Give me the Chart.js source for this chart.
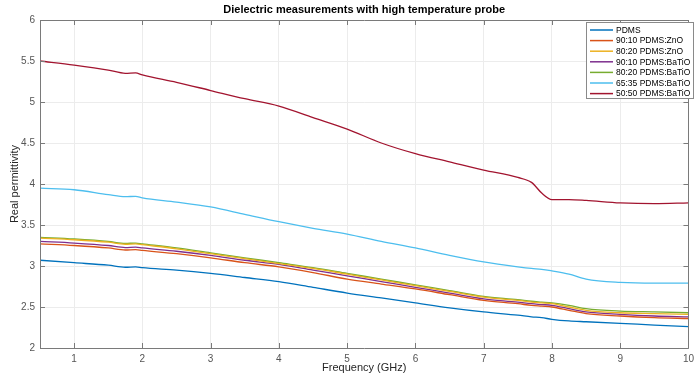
<!DOCTYPE html>
<html>
<head>
<meta charset="utf-8">
<script src="https://cdn.jsdelivr.net/npm/chart.js@4"></script>
<style>
  html, body { margin: 0; padding: 0; background: #fff; }
  #wrap { width: 699px; height: 381px; }
</style>
</head>
<body>
<div id="wrap"><canvas id="dielChart" width="699" height="381"></canvas></div>
<script>
const freq = [0.5, 1, 1.5, 1.75, 1.9, 2, 2.5, 3, 3.5, 4, 4.5, 5, 5.5, 6, 6.5, 7, 7.5, 7.7, 7.85, 8, 8.25, 8.5, 9, 9.5, 10];

const pdms      = [3.07, 3.04, 3.01, 2.985, 2.99, 2.98, 2.95, 2.91, 2.86, 2.81, 2.74, 2.67, 2.61, 2.55, 2.49, 2.44, 2.40, 2.38, 2.37, 2.35, 2.33, 2.32, 2.30, 2.28, 2.26];
const zno9010   = [3.27, 3.25, 3.22, 3.195, 3.20, 3.19, 3.15, 3.10, 3.04, 2.99, 2.92, 2.84, 2.78, 2.72, 2.65, 2.58, 2.54, 2.52, 2.51, 2.50, 2.46, 2.42, 2.39, 2.37, 2.36];
const zno8020   = [3.34, 3.32, 3.29, 3.265, 3.27, 3.26, 3.21, 3.15, 3.09, 3.03, 2.97, 2.90, 2.83, 2.76, 2.69, 2.62, 2.58, 2.56, 2.55, 2.54, 2.50, 2.46, 2.43, 2.42, 2.41];
const bat9010   = [3.30, 3.28, 3.25, 3.225, 3.23, 3.22, 3.18, 3.13, 3.07, 3.02, 2.95, 2.88, 2.81, 2.74, 2.67, 2.60, 2.56, 2.54, 2.53, 2.52, 2.48, 2.44, 2.41, 2.39, 2.38];
const bat8020   = [3.35, 3.33, 3.30, 3.275, 3.28, 3.27, 3.22, 3.16, 3.10, 3.04, 2.98, 2.91, 2.84, 2.77, 2.70, 2.63, 2.59, 2.57, 2.56, 2.55, 2.52, 2.48, 2.45, 2.44, 2.43];
const bat6535   = [3.95, 3.93, 3.87, 3.845, 3.85, 3.83, 3.78, 3.72, 3.63, 3.54, 3.46, 3.39, 3.30, 3.22, 3.13, 3.05, 2.99, 2.97, 2.96, 2.94, 2.90, 2.84, 2.80, 2.79, 2.79];
const bat5050   = [5.50, 5.45, 5.39, 5.35, 5.355, 5.33, 5.24, 5.14, 5.04, 4.95, 4.81, 4.67, 4.50, 4.37, 4.27, 4.17, 4.08, 4.02, 3.89, 3.81, 3.81, 3.80, 3.77, 3.76, 3.77];

const seriesNames  = ['PDMS', '90:10 PDMS:ZnO', '80:20 PDMS:ZnO', '90:10 PDMS:BaTiO', '80:20 PDMS:BaTiO', '65:35 PDMS:BaTiO', '50:50 PDMS:BaTiO'];
const seriesValues = [pdms, zno9010, zno8020, bat9010, bat8020, bat6535, bat5050];
const seriesColors = ['#0072BD', '#D95319', '#EDB120', '#7E2F8E', '#77AC30', '#4DBEEE', '#A2142F'];

const xTicks = [1, 2, 3, 4, 5, 6, 7, 8, 9, 10];
const yTicks = [2, 2.5, 3, 3.5, 4, 4.5, 5, 5.5, 6];

const FONT = "'Liberation Sans', Arial, sans-serif";

// matlab style box, inward ticks, title and legend
const matlabBox = {
    id: 'matlabBox',
    afterDraw(chart) {
        const ctx = chart.ctx;
        const a = chart.chartArea;
        const xs = chart.scales.x, ys = chart.scales.y;
        ctx.save();
        ctx.strokeStyle = '#7a7a7a';
        ctx.lineWidth = 1;
        ctx.beginPath();
        ctx.rect(Math.round(a.left) + 0.5, Math.round(a.top) + 0.5, Math.round(a.right - a.left), Math.round(a.bottom - a.top));
        ctx.stroke();
        // inward ticks
        ctx.beginPath();
        xTicks.forEach(v => {
            const px = Math.round(xs.getPixelForValue(v)) + 0.5;
            ctx.moveTo(px, a.bottom); ctx.lineTo(px, a.bottom - 5);
            ctx.moveTo(px, a.top); ctx.lineTo(px, a.top + 5);
        });
        yTicks.forEach(v => {
            const py = Math.round(ys.getPixelForValue(v)) + 0.5;
            ctx.moveTo(a.left, py); ctx.lineTo(a.left + 5, py);
            ctx.moveTo(a.right, py); ctx.lineTo(a.right - 5, py);
        });
        ctx.stroke();

        // title
        ctx.fillStyle = '#000';
        ctx.font = 'bold 11px ' + FONT;
        ctx.textAlign = 'center';
        ctx.textBaseline = 'middle';
        ctx.fillText('Dielectric measurements with high temperature probe', (a.left + a.right) / 2, 10);

        // legend
        const lx = 586, ly = 22, lw = 107, lh = 76;
        ctx.fillStyle = '#fff';
        ctx.fillRect(lx, ly, lw, lh);
        ctx.strokeStyle = '#8a8a8a';
        ctx.strokeRect(lx + 0.5, ly + 0.5, lw, lh);
        ctx.font = '8.5px ' + FONT;
        ctx.textAlign = 'left';
        chart.data.datasets.forEach((ds, i) => {
            const y = ly + 8 + i * 10.6;
            ctx.strokeStyle = ds.borderColor;
            ctx.lineWidth = 1.5;
            ctx.beginPath();
            ctx.moveTo(lx + 4, y); ctx.lineTo(lx + 27, y);
            ctx.stroke();
            ctx.fillStyle = '#000';
            ctx.fillText(ds.label, lx + 30, y + 0.5);
        });
        ctx.restore();
    }
};

const ctx = document.getElementById('dielChart').getContext('2d');
const dielChart = new Chart(ctx, {
    type: 'line',
    data: {
        datasets: seriesNames.map((name, i) => ({
            label: name,
            data: freq.map((f, j) => ({ x: f, y: seriesValues[i][j] })),
            borderColor: seriesColors[i],
            backgroundColor: seriesColors[i],
            borderWidth: 1.3,
            pointRadius: 0,
            cubicInterpolationMode: 'monotone'
        }))
    },
    options: {
        responsive: false,
        animation: false,
        layout: { padding: { top: 20, right: 4, left: 0, bottom: 0 } },
        scales: {
            x: {
                type: 'linear',
                min: 0.5,
                max: 10,
                afterBuildTicks: axis => { axis.ticks = xTicks.map(v => ({ value: v })); },
                afterFit: axis => { axis.height = 33; },
                grid: { color: '#ececec', drawTicks: false },
                border: { display: false },
                ticks: { color: '#555', font: { family: FONT, size: 10 }, padding: 5, maxRotation: 0,
                         callback: v => String(v) },
                title: { display: true, text: 'Frequency (GHz)', color: '#262626', font: { family: FONT, size: 11 }, padding: { top: 1, bottom: 6 } }
            },
            y: {
                min: 2,
                max: 6,
                afterBuildTicks: axis => { axis.ticks = yTicks.map(v => ({ value: v })); },
                afterFit: axis => { axis.width = 40; },
                grid: { color: '#ececec', drawTicks: false },
                border: { display: false },
                ticks: { color: '#555', font: { family: FONT, size: 10 }, padding: 5,
                         callback: v => String(v) },
                title: { display: true, text: 'Real permittivity', color: '#262626', font: { family: FONT, size: 11 }, padding: { top: 8, bottom: 0 } }
            }
        },
        plugins: {
            legend: { display: false },
            tooltip: { enabled: false }
        }
    },
    plugins: [matlabBox]
});
</script>
</body>
</html>
